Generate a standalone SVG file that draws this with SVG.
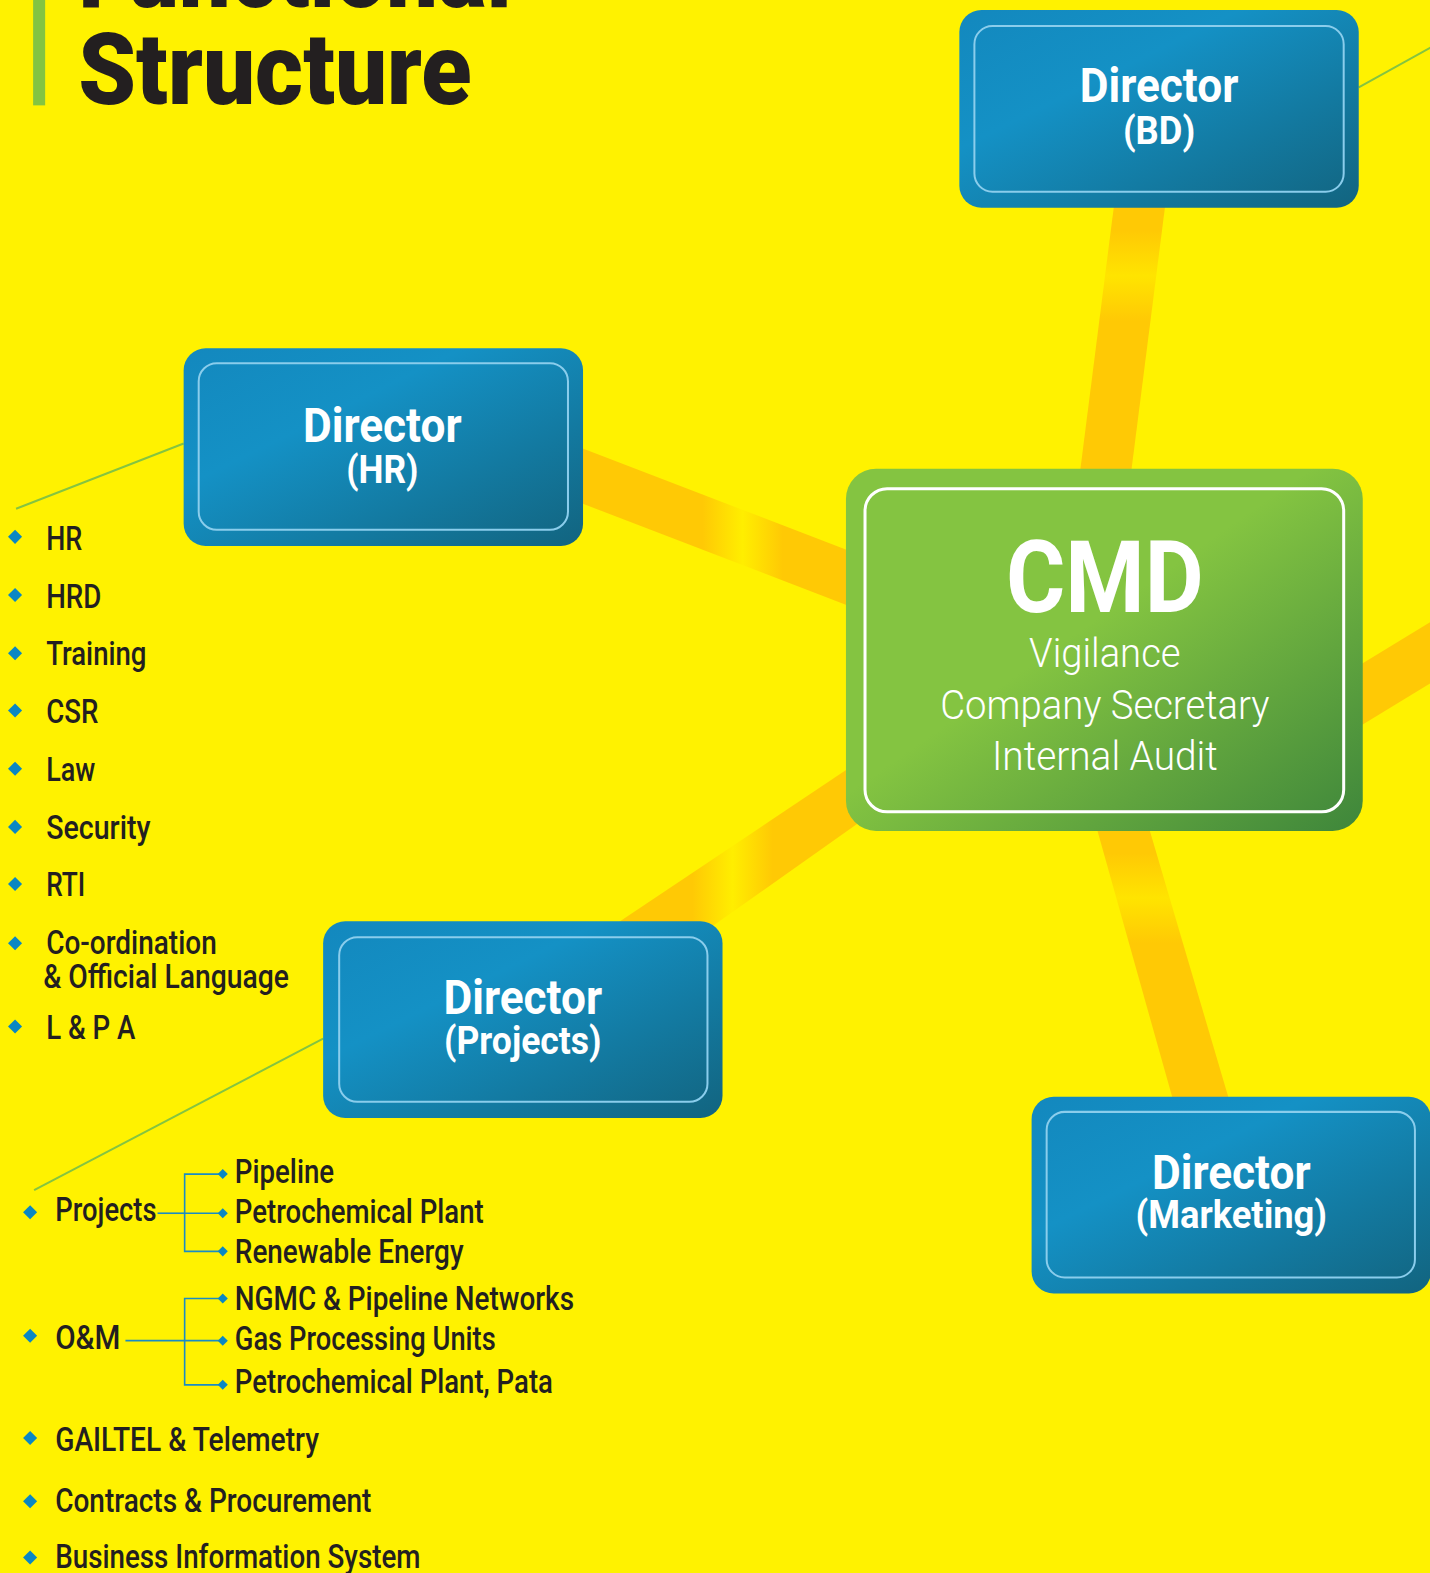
<svg xmlns="http://www.w3.org/2000/svg" width="1430" height="1573" viewBox="0 0 1430 1573">
<defs>
<linearGradient id="blue" x1="0" y1="0" x2="1" y2="1">
<stop offset="0" stop-color="#1388BE"/>
<stop offset="0.35" stop-color="#1491C5"/>
<stop offset="1" stop-color="#12647F"/>
</linearGradient>
<linearGradient id="green" x1="0" y1="0" x2="1" y2="1">
<stop offset="0" stop-color="#84C441"/>
<stop offset="0.45" stop-color="#84C441"/>
<stop offset="1" stop-color="#3E863B"/>
</linearGradient>
<linearGradient id="b2" gradientUnits="userSpaceOnUse" x1="700" y1="0" x2="780" y2="0">
<stop offset="0" stop-color="#FFC905"/><stop offset="0.5" stop-color="#FFEE00"/><stop offset="1" stop-color="#FFC905"/>
</linearGradient>
<linearGradient id="b3" gradientUnits="userSpaceOnUse" x1="690" y1="0" x2="770" y2="0">
<stop offset="0" stop-color="#FFC905"/><stop offset="0.5" stop-color="#FFEE00"/><stop offset="1" stop-color="#FFC905"/>
</linearGradient>
<linearGradient id="b1" gradientUnits="userSpaceOnUse" x1="0" y1="230" x2="0" y2="320">
<stop offset="0" stop-color="#FFC905"/><stop offset="0.5" stop-color="#FFE400"/><stop offset="1" stop-color="#FFC905"/>
</linearGradient>
<linearGradient id="b4" gradientUnits="userSpaceOnUse" x1="0" y1="850" x2="0" y2="940">
<stop offset="0" stop-color="#FFC905"/><stop offset="0.5" stop-color="#FFE400"/><stop offset="1" stop-color="#FFC905"/>
</linearGradient>
<path id="dia" d="M0,-7 L7,0 L0,7 L-7,0Z" fill="#0A87C3"/>
<path id="sdia" d="M0,-5 L5,0 L0,5 L-5,0Z" fill="#0A87C3"/>
<style>
.bg{fill:#FFF200}
.box{fill:url(#blue)}
.inner{fill:none;stroke:#8ACDEC;stroke-width:2}
.dt{font-family:Roboto,"Noto Sans",sans-serif;font-weight:700;fill:#FFFFFF;text-anchor:middle}
.li{font-family:Roboto,"Noto Sans",sans-serif;font-weight:500;font-size:33px;fill:#231F20}
.band{stroke:none}
.thin{stroke:#84C441;stroke-width:2;fill:none}
.tree{stroke:#1A8CC4;stroke-width:1.6;fill:none}
</style>
</defs>
<rect class="bg" x="0" y="0" width="1430" height="1573"/>
<g transform="scale(1.0035)">
<g id="title">
<rect x="33" y="0" width="12" height="105" fill="#84C441"/>
<text x="78" y="7" font-family="Roboto,'Noto Sans',sans-serif" font-weight="900" font-size="100" fill="#231F20" textLength="432" lengthAdjust="spacingAndGlyphs">Functional</text>
<text x="78" y="104" font-family="Roboto,'Noto Sans',sans-serif" font-weight="900" font-size="100" fill="#231F20" textLength="392" lengthAdjust="spacingAndGlyphs">Structure</text>
</g>
<g id="connectors">
<polygon class="band" fill="url(#b1)" points="1112,190 1163,190 1126,480 1075,480"/>
<polygon class="band" fill="url(#b2)" points="560,439 870,558 870,613 560,494"/>
<polygon class="band" fill="url(#b3)" points="860,756 600,930 700,930 860,817"/>
<polygon class="band" fill="url(#b4)" points="1090,815 1142,815 1226,1100 1170,1100"/>
<polygon class="band" fill="url(#b4)" points="1340,672 1430,617 1430,678 1340,733"/>
<line class="thin" x1="1354" y1="87" x2="1430" y2="45"/>
<line class="thin" x1="183" y1="442" x2="16" y2="507"/>
<line class="thin" x1="322" y1="1035" x2="34" y2="1186"/>
<polyline class="tree" points="157,1209 184,1209"/>
<polyline class="tree" points="220,1170 184,1170 184,1247 220,1247"/>
<line class="tree" x1="184" y1="1209" x2="220" y2="1209"/>
<polyline class="tree" points="125,1336 184,1336"/>
<polyline class="tree" points="220,1294 184,1294 184,1380 220,1380"/>
<line class="tree" x1="184" y1="1336" x2="220" y2="1336"/>
<use href="#sdia" x="222" y="1170"/>
<use href="#sdia" x="222" y="1209"/>
<use href="#sdia" x="222" y="1247"/>
<use href="#sdia" x="222" y="1294"/>
<use href="#sdia" x="222" y="1336"/>
<use href="#sdia" x="222" y="1380"/>
</g>
<g id="bd">
<rect class="box" x="956" y="10" width="398" height="197" rx="22"/>
<rect class="inner" x="971" y="26" width="368" height="165" rx="18"/>
<text class="dt" x="1155" y="102" font-size="48" textLength="158" lengthAdjust="spacingAndGlyphs">Director</text>
<text class="dt" x="1155" y="143" font-size="38" textLength="72" lengthAdjust="spacingAndGlyphs">(BD)</text>
</g>
<g id="hr">
<rect class="box" x="183" y="347" width="398" height="197" rx="22"/>
<rect class="inner" x="198" y="362" width="368" height="166" rx="18"/>
<text class="dt" x="381" y="440" font-size="48" textLength="158" lengthAdjust="spacingAndGlyphs">Director</text>
<text class="dt" x="381" y="481" font-size="38" textLength="72" lengthAdjust="spacingAndGlyphs">(HR)</text>
</g>
<g id="cmd">
<rect x="843" y="467" width="515" height="361" rx="30" fill="url(#green)"/>
<rect x="862" y="487" width="477" height="322" rx="22" fill="none" stroke="#FFFFFF" stroke-width="3"/>
<text class="dt" x="1101" y="610" font-size="100" textLength="197" lengthAdjust="spacingAndGlyphs">CMD</text>
<text x="1101" y="665" font-family="Roboto,'Noto Sans',sans-serif" font-weight="300" font-size="40" fill="#FFFFFF" text-anchor="middle" textLength="151" lengthAdjust="spacingAndGlyphs">Vigilance</text>
<text x="1101" y="716" font-family="Roboto,'Noto Sans',sans-serif" font-weight="300" font-size="40" fill="#FFFFFF" text-anchor="middle" textLength="328" lengthAdjust="spacingAndGlyphs">Company Secretary</text>
<text x="1101" y="767" font-family="Roboto,'Noto Sans',sans-serif" font-weight="300" font-size="40" fill="#FFFFFF" text-anchor="middle" textLength="225" lengthAdjust="spacingAndGlyphs">Internal Audit</text>
</g>
<g id="projects">
<rect class="box" x="322" y="918" width="398" height="196" rx="22"/>
<rect class="inner" x="338" y="934" width="367" height="164" rx="18"/>
<text class="dt" x="521" y="1010" font-size="48" textLength="158" lengthAdjust="spacingAndGlyphs">Director</text>
<text class="dt" x="521" y="1050" font-size="38" textLength="157" lengthAdjust="spacingAndGlyphs">(Projects)</text>
</g>
<g id="marketing">
<rect class="box" x="1028" y="1093" width="398" height="196" rx="22"/>
<rect class="inner" x="1043" y="1108" width="367" height="165" rx="18"/>
<text class="dt" x="1227" y="1185" font-size="48" textLength="158" lengthAdjust="spacingAndGlyphs">Director</text>
<text class="dt" x="1227" y="1224" font-size="38" textLength="191" lengthAdjust="spacingAndGlyphs">(Marketing)</text>
</g>
<g id="hr-list">
<use href="#dia" x="15" y="535"/><text class="li" x="46" y="548" textLength="36" lengthAdjust="spacingAndGlyphs">HR</text>
<use href="#dia" x="15" y="593"/><text class="li" x="46" y="606" textLength="55" lengthAdjust="spacingAndGlyphs">HRD</text>
<use href="#dia" x="15" y="651"/><text class="li" x="46" y="663" textLength="100" lengthAdjust="spacingAndGlyphs">Training</text>
<use href="#dia" x="15" y="708"/><text class="li" x="46" y="720" textLength="52" lengthAdjust="spacingAndGlyphs">CSR</text>
<use href="#dia" x="15" y="766"/><text class="li" x="46" y="778" textLength="49" lengthAdjust="spacingAndGlyphs">Law</text>
<use href="#dia" x="15" y="824"/><text class="li" x="46" y="836" textLength="104" lengthAdjust="spacingAndGlyphs">Security</text>
<use href="#dia" x="15" y="881"/><text class="li" x="46" y="893" textLength="39" lengthAdjust="spacingAndGlyphs">RTI</text>
<use href="#dia" x="15" y="940"/><text class="li" x="46" y="951" textLength="170" lengthAdjust="spacingAndGlyphs">Co-ordination</text>
<text class="li" x="43" y="985" textLength="245" lengthAdjust="spacingAndGlyphs">&amp; Official Language</text>
<use href="#dia" x="15" y="1023"/><text class="li" x="46" y="1035" textLength="89" lengthAdjust="spacingAndGlyphs">L &amp; P A</text>
</g>
<g id="projects-list">
<use href="#dia" x="30" y="1208"/><text class="li" x="55" y="1217" textLength="101" lengthAdjust="spacingAndGlyphs">Projects</text>
<text class="li" x="234" y="1179" textLength="99" lengthAdjust="spacingAndGlyphs">Pipeline</text>
<text class="li" x="234" y="1219" textLength="248" lengthAdjust="spacingAndGlyphs">Petrochemical Plant</text>
<text class="li" x="234" y="1259" textLength="228" lengthAdjust="spacingAndGlyphs">Renewable Energy</text>
<use href="#dia" x="30" y="1331"/><text class="li" x="55" y="1344" textLength="65" lengthAdjust="spacingAndGlyphs">O&amp;M</text>
<text class="li" x="234" y="1305" textLength="338" lengthAdjust="spacingAndGlyphs">NGMC &amp; Pipeline Networks</text>
<text class="li" x="234" y="1345" textLength="260" lengthAdjust="spacingAndGlyphs">Gas Processing Units</text>
<text class="li" x="234" y="1388" textLength="317" lengthAdjust="spacingAndGlyphs">Petrochemical Plant, Pata</text>
<use href="#dia" x="30" y="1433"/><text class="li" x="55" y="1446" textLength="263" lengthAdjust="spacingAndGlyphs">GAILTEL &amp; Telemetry</text>
<use href="#dia" x="30" y="1496"/><text class="li" x="55" y="1507" textLength="315" lengthAdjust="spacingAndGlyphs">Contracts &amp; Procurement</text>
<use href="#dia" x="30" y="1552"/><text class="li" x="55" y="1563" textLength="364" lengthAdjust="spacingAndGlyphs">Business Information System</text>
</g>
</g>
</svg>
